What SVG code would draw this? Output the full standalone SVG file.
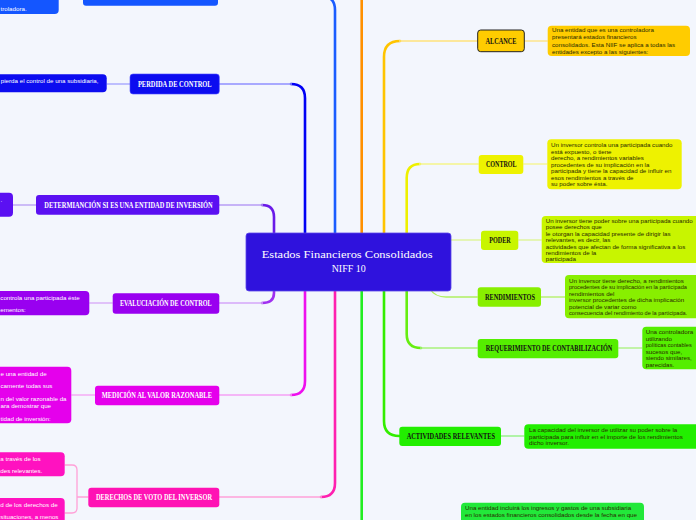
<svg xmlns="http://www.w3.org/2000/svg" width="696" height="520" viewBox="0 0 696 520">
<style>
.lbl{font-family:"Liberation Serif","DejaVu Serif",serif;font-weight:bold;font-size:8px;text-anchor:middle;dominant-baseline:central}
.ttl{font-family:"Liberation Serif","DejaVu Serif",serif;font-size:11px;text-anchor:middle;dominant-baseline:central;fill:#ffffff}
.w{fill:#ffffff}
.k{fill:#111111}
.nt{font-family:"Liberation Sans",Arial,sans-serif;font-size:6.2px;fill:#2a2a00}
.sm{font-size:5.6px}
.nw{font-family:"Liberation Sans",Arial,sans-serif;font-size:6.2px;fill:#ffffff}
.v{fill:none;stroke-width:2.6;stroke-linecap:round}
.h{fill:none;stroke-width:1.3}
</style>
<rect width="696" height="520" fill="#f3f6fd"/>
<g id="connectors">
  <path class="v" stroke="#1a5cff" d="M335,240 V10 Q335,-4 321,-4 H218"/>
  <path class="v" stroke="#0000f5" d="M305,240 V98 Q305,84 291,84"/>
  <path class="h" stroke="#8f8fff" d="M292,84 H219"/>
  <path class="h" stroke="#a0a0ff" d="M106.7,84 H130"/>
  <path class="v" stroke="#6a1ae8" d="M274,240 V217 Q274,205 262,205"/>
  <path class="h" stroke="#b79cf5" d="M263,205 H219"/>
  <path class="h" stroke="#b79cf5" d="M13,205 H36"/>
  <path class="v" stroke="#a030f0" d="M274,285 V293 Q274,303 262,303"/>
  <path class="h" stroke="#d5a6f8" d="M263,303 H219"/>
  <path class="h" stroke="#d5a6f8" d="M89.3,303 H112.7"/>
  <path class="v" stroke="#ee10ee" d="M305,285 V381 Q305,395 291,395"/>
  <path class="h" stroke="#f4a0f4" d="M292,395 H219"/>
  <path class="h" stroke="#f4a0f4" d="M71.3,395 H95"/>
  <path class="v" stroke="#ff20b0" d="M335,285 V483 Q335,497 321,497"/>
  <path class="h" stroke="#ffa0d8" d="M322,497 H219"/>
  <path class="h" stroke="#ffa0d8" d="M88.3,497 H77 M64.7,465 H72 Q77,465 77,470 V508 Q77,513 72,513 H64.7"/>
  <path class="v" stroke="#ff9000" d="M361.7,240 V0"/>
  <path class="v" stroke="#ffc400" d="M384,240 V57 Q384,41 400,41"/>
  <path class="h" stroke="#ffe27a" d="M399,41 H477.7"/>
  <path class="h" stroke="#ffe27a" d="M524.3,41 H547.7"/>
  <path class="v" stroke="#eef000" d="M406.7,240 V178 Q406.7,164 420,164"/>
  <path class="h" stroke="#f5f58a" d="M419,164 H478.7"/>
  <path class="h" stroke="#f5f58a" d="M523.3,164 H547.3"/>
  <path class="h" stroke="#dcf590" d="M451,240 H481"/>
  <path class="h" stroke="#dcf590" d="M518.3,240 H541.7"/>
  <path class="h" stroke="#b0f060" stroke-width="1.6" d="M430,289 Q435,297 446,297 H477.7"/>
  <path class="h" stroke="#b0f060" d="M541,297 H565"/>
  <path class="v" stroke="#66ee11" d="M406.7,285 V334 Q406.7,348 421,348"/>
  <path class="h" stroke="#a8f27a" d="M420,348 H477.7"/>
  <path class="h" stroke="#a8f27a" d="M618.3,348 H642.3"/>
  <path class="v" stroke="#33ee00" d="M384,285 V421 Q384,436 399.3,436"/>
  <path class="h" stroke="#8cf27a" d="M501,436 H524.3"/>
  <path class="v" stroke="#22ee22" d="M361.7,285 V522"/>
</g>
<g id="center">
  <rect x="246" y="233" width="205" height="58" rx="3" fill="#2f12dd" stroke="#5a46ea" stroke-width="0.8"/>
  <text class="ttl" x="347.2" y="254" textLength="171" lengthAdjust="spacingAndGlyphs">Estados Financieros Consolidados</text>
  <text class="ttl" x="348.7" y="268.3" textLength="34" lengthAdjust="spacingAndGlyphs">NIFF 10</text>
</g>
<g id="top-blue">
  <rect x="83" y="-15" width="135" height="20.7" rx="3" fill="#1456ff"/>
  <rect x="-10" y="-20" width="68.7" height="34" rx="4" fill="#1456ff"/>
  <text class="nw" x="0.5" y="11">troladora.</text>
</g>
<g id="perdida">
  <rect x="130" y="74" width="89.3" height="20" rx="3" fill="#0c0cf0" stroke="#4a4aff" stroke-width="0.6"/>
  <text class="lbl w" x="174.8" y="84" textLength="73.7" lengthAdjust="spacingAndGlyphs">PERDIDA DE CONTROL</text>
  <rect x="-10" y="74.3" width="116.7" height="18" rx="4" fill="#0c0cf0"/>
  <text class="nw" x="0.8" y="83">pierda el control de una subsidiaria,</text>
</g>
<g id="determinacion">
  <rect x="36" y="195" width="183.3" height="19.7" rx="3" fill="#5b10f2"/>
  <text class="lbl w" x="128.5" y="205" textLength="168.3" lengthAdjust="spacingAndGlyphs">DETERMIANCIÓN SI ES UNA ENTIDAD DE INVERSIÓN</text>
  <rect x="-10" y="192.7" width="23" height="24" rx="4" fill="#5b10f2"/>
  <text class="nw" x="0.5" y="201.5">.</text>
</g>
<g id="evaluciacion">
  <rect x="112.7" y="293.3" width="106.6" height="20.4" rx="3" fill="#9900f0"/>
  <text class="lbl w" x="165.8" y="303.5" textLength="91.7" lengthAdjust="spacingAndGlyphs">EVALUCIACIÓN DE CONTROL</text>
  <rect x="-10" y="291" width="99.3" height="24.3" rx="4" fill="#9900f0"/>
  <text class="nw" x="0.3" y="299.5">controla una participada éste</text>
  <text class="nw" x="0.3" y="312">ementos:</text>
</g>
<g id="medicion">
  <rect x="95" y="385.7" width="124.3" height="19.6" rx="3" fill="#e500ec"/>
  <text class="lbl w" x="156.8" y="395.5" textLength="110.3" lengthAdjust="spacingAndGlyphs">MEDICIÓN AL VALOR RAZONABLE</text>
  <rect x="-10" y="366.7" width="81.3" height="56.6" rx="4" fill="#e500ec"/>
  <text class="nw" x="0.5" y="376">e una entidad de</text>
  <text class="nw" x="0.5" y="388">camente todas sus</text>
  <text class="nw" x="0.5" y="400.7">n del valor razonable da</text>
  <text class="nw" x="0.5" y="408">ara demostrar que</text>
  <text class="nw" x="0.5" y="421">tidad de inversión:</text>
</g>
<g id="derechos">
  <rect x="88.3" y="487.7" width="131" height="19.6" rx="3" fill="#ff12b4"/>
  <text class="lbl w" x="154" y="497.5" textLength="116" lengthAdjust="spacingAndGlyphs">DERECHOS DE VOTO DEL INVERSOR</text>
  <rect x="-10" y="452.3" width="74.7" height="24" rx="4" fill="#ff12c0"/>
  <text class="nw" x="0.3" y="461">a través de los</text>
  <text class="nw" x="0.3" y="473">des relevantes.</text>
  <rect x="-10" y="498" width="74.7" height="30" rx="4" fill="#ff12c0"/>
  <text class="nw" x="0.3" y="507.3">d de los derechos de</text>
  <text class="nw" x="0.3" y="519.3"> situaciones, a menos</text>
</g>
<g id="alcance">
  <rect x="477.7" y="30" width="46.6" height="21.7" rx="3" fill="#ffcc00" stroke="#222" stroke-width="1"/>
  <text class="lbl k" x="501" y="41" textLength="31" lengthAdjust="spacingAndGlyphs">ALCANCE</text>
  <rect x="547.7" y="25.7" width="142.3" height="30.3" rx="4" fill="#ffcc00"/>
  <text class="nt" x="552" y="32.4">Una entidad que es una controladora</text>
  <text class="nt" x="552" y="38.8">presentará estados financieros</text>
  <text class="nt" x="552" y="46.7">consolidados. Esta NIIF se aplica a todas las</text>
  <text class="nt" x="552" y="53.5">entidades excepto a las siguientes:</text>
</g>
<g id="control">
  <rect x="478.7" y="155" width="44.6" height="19" rx="3" fill="#eef200"/>
  <text class="lbl k" x="501.3" y="164.5" textLength="30.7" lengthAdjust="spacingAndGlyphs">CONTROL</text>
  <rect x="547.3" y="139.3" width="134.4" height="50" rx="4" fill="#eef200"/>
  <text class="nt" x="551" y="147">Un inversor controla una participada cuando</text>
  <text class="nt" x="551" y="153.7">está expuesto, o tiene</text>
  <text class="nt" x="551" y="160">derecho, a rendimientos variables</text>
  <text class="nt" x="551" y="166.7">procedentes de su implicación en la</text>
  <text class="nt" x="551" y="173">participada y tiene la capacidad de influir en</text>
  <text class="nt" x="551" y="180">esos rendimientos a través de</text>
  <text class="nt" x="551" y="186.3">su poder sobre ésta.</text>
</g>
<g id="poder">
  <rect x="481" y="230.7" width="37.3" height="19.3" rx="3" fill="#c8f500"/>
  <text class="lbl k" x="500" y="240.3" textLength="21.4" lengthAdjust="spacingAndGlyphs">PODER</text>
  <rect x="541.7" y="216" width="170" height="47" rx="4" fill="#c8f500"/>
  <text class="nt" x="545.7" y="222.7" textLength="147" lengthAdjust="spacingAndGlyphs">Un inversor tiene poder sobre una participada cuando</text>
  <text class="nt" x="545.7" y="229.3">posee derechos que</text>
  <text class="nt" x="545.7" y="235.7">le otorgan la capacidad presente de dirigir las</text>
  <text class="nt" x="545.7" y="242.3">relevantes, es decir, las</text>
  <text class="nt" x="545.7" y="248.7">actividades que afectan de forma significativa a los</text>
  <text class="nt" x="545.7" y="255">rendimientos de la</text>
  <text class="nt" x="545.7" y="261.3">participada</text>
</g>
<g id="rendimientos">
  <rect x="477.7" y="287.3" width="63.3" height="19.4" rx="3" fill="#88ef00"/>
  <text class="lbl k" x="510" y="297" textLength="50" lengthAdjust="spacingAndGlyphs">RENDIMIENTOS</text>
  <rect x="565" y="275" width="150" height="43.3" rx="4" fill="#88ef00"/>
  <text class="nt" x="569" y="283">Un inversor  tiene derecho, a rendimientos</text>
  <text class="nt sm" x="569" y="289.3">procedentes de su implicación en la participada</text>
  <text class="nt" x="569" y="296">rendimientos del</text>
  <text class="nt" x="569" y="302.3">inversor procedentes de dicha implicación</text>
  <text class="nt" x="569" y="308.7">potencial de variar como</text>
  <text class="nt sm" x="569" y="315">consecuencia del rendimiento de la participada.</text>
</g>
<g id="requerimiento">
  <rect x="477.7" y="339" width="140.6" height="19.3" rx="3" fill="#55ee00"/>
  <text class="lbl k" x="549" y="348.7" textLength="126.6" lengthAdjust="spacingAndGlyphs">REQUERIMIENTO DE CONTABILIZACIÓN</text>
  <rect x="642.3" y="326.7" width="70" height="42.6" rx="4" fill="#55ee00"/>
  <text class="nt" x="645.7" y="333.7">Una controladora</text>
  <text class="nt" x="645.7" y="340.7">utilizando</text>
  <text class="nt sm" x="645.7" y="347">políticas contables</text>
  <text class="nt" x="645.7" y="353.7">sucesos que,</text>
  <text class="nt" x="645.7" y="360">siendo similares,</text>
  <text class="nt" x="645.7" y="366.7">parecidas.</text>
</g>
<g id="actividades">
  <rect x="399.3" y="426.7" width="101.7" height="19.3" rx="3" fill="#22ee00"/>
  <text class="lbl k" x="450.8" y="436.3" textLength="88.3" lengthAdjust="spacingAndGlyphs">ACTIVIDADES RELEVANTES</text>
  <rect x="524.3" y="424.3" width="180" height="24.4" rx="4" fill="#22ee00"/>
  <text class="nt" x="529" y="432">La capacidad del inversor de utilizar su poder sobre la</text>
  <text class="nt" x="529" y="438.7">participada para influir en el importe de los rendimientos</text>
  <text class="nt" x="529" y="445">dicho inversor.</text>
</g>
<g id="inclusion-note">
  <rect x="461" y="502.7" width="183" height="30" rx="4" fill="#22e83a"/>
  <text class="nt" x="465" y="510.3">Una entidad incluirá los ingresos y gastos de una subsidiaria</text>
  <text class="nt" x="465" y="516.7">en los estados financieros consolidados desde la fecha en que</text>
</g>
</svg>
